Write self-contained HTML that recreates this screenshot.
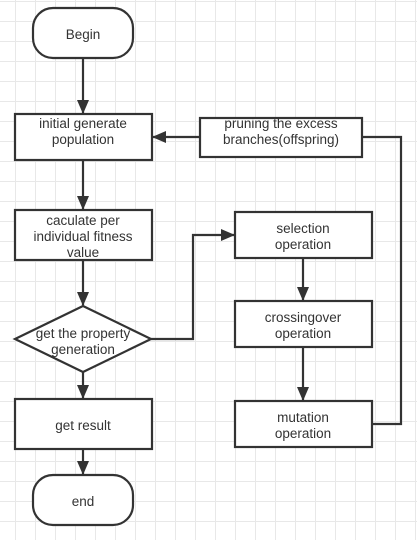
<!DOCTYPE html>
<html><head><style>
html,body{margin:0;padding:0;background:#fff;}
body{width:417px;height:540px;overflow:hidden;
background-image:linear-gradient(#e8e8e8 1px,transparent 1px),linear-gradient(90deg,#e8e8e8 1px,transparent 1px);
background-size:20px 20px;background-position:-5px 1px;}
svg{position:absolute;left:0;top:0;}
text{font-family:"Liberation Sans",sans-serif;font-size:13.5px;fill:#333;text-anchor:middle;}
</style></head><body>
<svg width="417" height="540" viewBox="0 0 417 540">
<defs><marker id="a" markerWidth="14" markerHeight="12" refX="13" refY="6" orient="auto" markerUnits="userSpaceOnUse"><path d="M0,0 L14,6 L0,12 Z" fill="#333"/></marker></defs>
<g fill="#fff" stroke="#333" stroke-width="2.2">
<rect x="33" y="8" width="100" height="50" rx="20"/>
<rect x="15" y="114" width="137" height="46"/>
<rect x="200" y="118" width="162" height="39"/>
<rect x="15" y="210" width="137" height="50"/>
<rect x="235" y="212" width="137" height="46"/>
<polygon points="15,339 83,306 151,339 83,372"/>
<rect x="235" y="301" width="137" height="46"/>
<rect x="15" y="399" width="137" height="50"/>
<rect x="235" y="401" width="137" height="46"/>
<rect x="33" y="475" width="100" height="50" rx="20"/>
</g>
<g fill="none" stroke="#333" stroke-width="2.2">
<line x1="83" y1="58" x2="83" y2="113" marker-end="url(#a)"/>
<line x1="83" y1="160" x2="83" y2="209" marker-end="url(#a)"/>
<line x1="83" y1="260" x2="83" y2="305" marker-end="url(#a)"/>
<line x1="83" y1="372" x2="83" y2="398" marker-end="url(#a)"/>
<line x1="83" y1="449" x2="83" y2="474" marker-end="url(#a)"/>
<line x1="200" y1="137" x2="153" y2="137" marker-end="url(#a)"/>
<polyline points="151,339 193,339 193,235 234,235" marker-end="url(#a)"/>
<line x1="303" y1="258" x2="303" y2="300" marker-end="url(#a)"/>
<line x1="303" y1="347" x2="303" y2="400" marker-end="url(#a)"/>
<polyline points="372,424 401,424 401,137 362,137"/>
</g>
<text x="83" y="39">Begin</text>
<text x="83" y="128">initial generate</text><text x="83" y="144">population</text>
<text x="281" y="128">pruning the excess</text><text x="281" y="144">branches(offspring)</text>
<text x="83" y="225">caculate per</text><text x="83" y="241">individual fitness</text><text x="83" y="257">value</text>
<text x="303" y="233">selection</text><text x="303" y="249">operation</text>
<text x="83" y="338">get the property</text><text x="83" y="354">generation</text>
<text x="303" y="322">crossingover</text><text x="303" y="338">operation</text>
<text x="83" y="430">get result</text>
<text x="303" y="422">mutation</text><text x="303" y="438">operation</text>
<text x="83" y="506">end</text>
</svg>
</body></html>
